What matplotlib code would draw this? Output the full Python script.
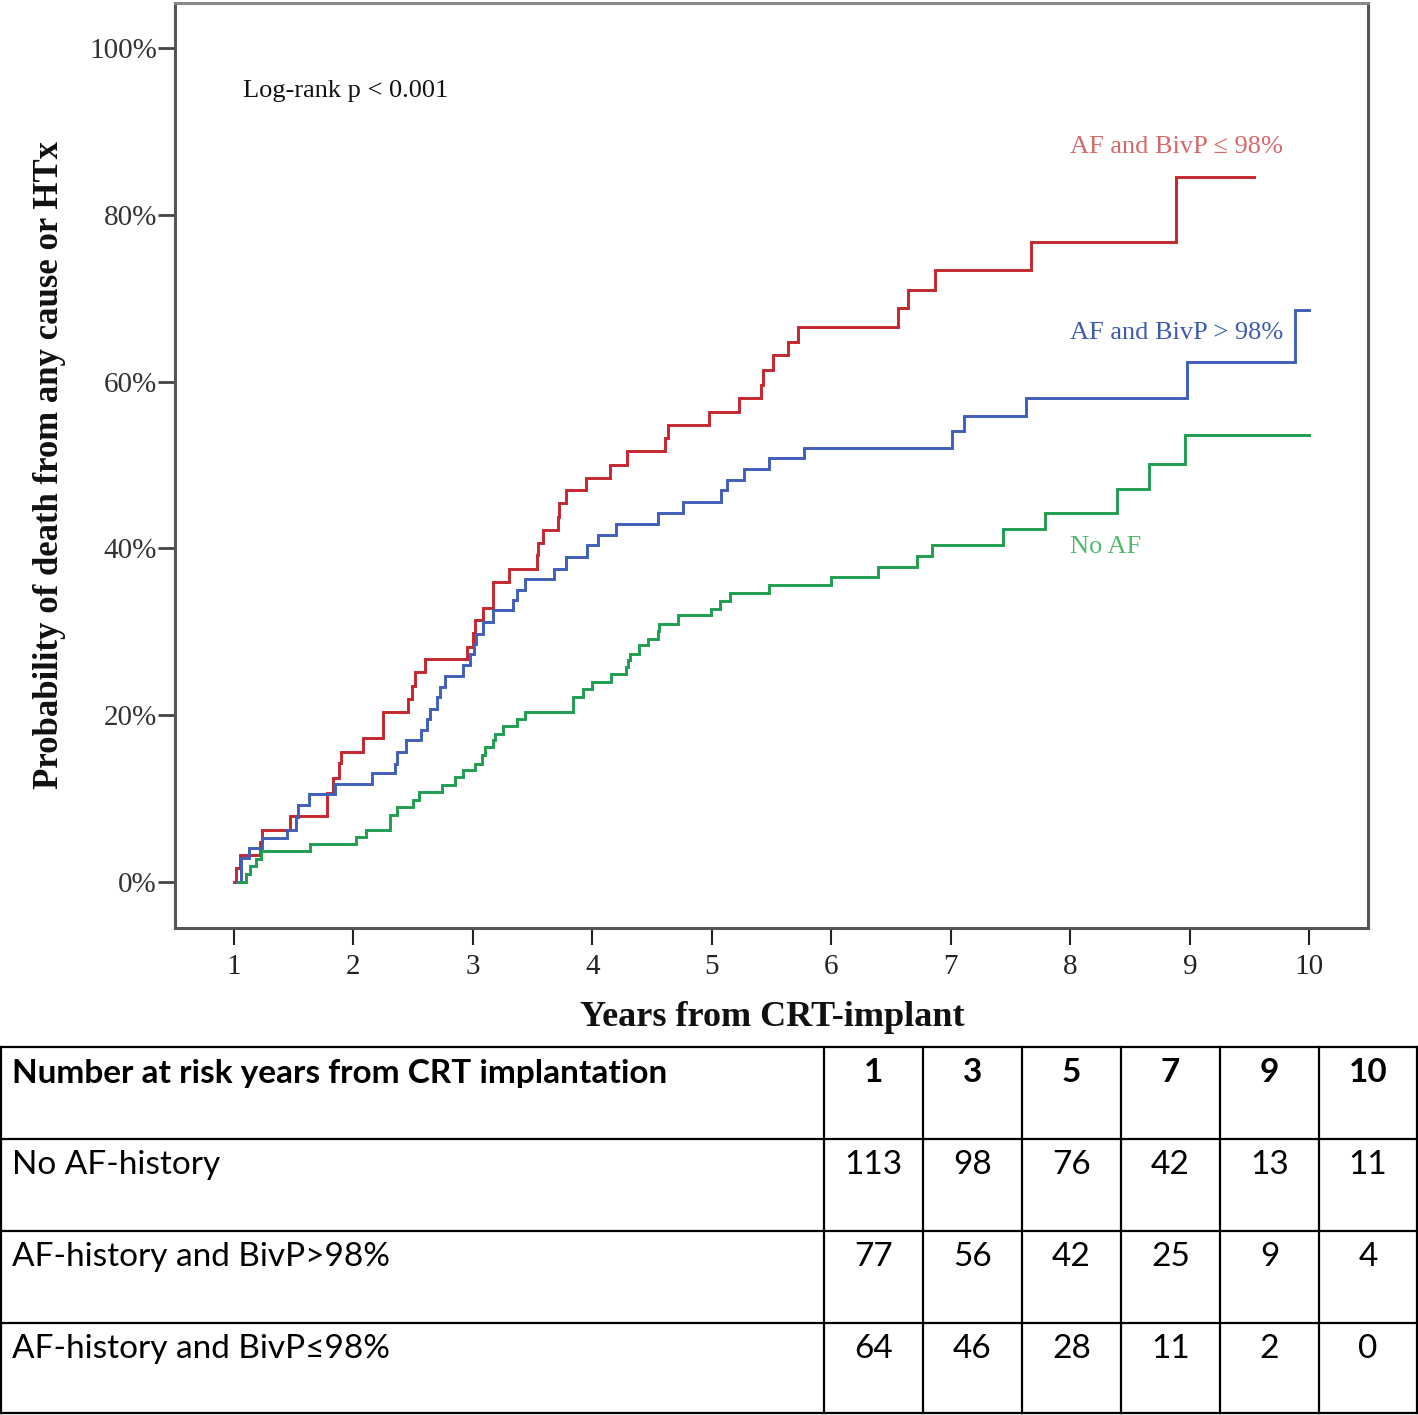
import matplotlib
matplotlib.use("Agg")
import matplotlib.pyplot as plt
from matplotlib.lines import Line2D

# ---------------- data ----------------
red_t = [1.00, 1.02, 1.05, 1.22, 1.24, 1.47, 1.78, 1.83, 1.88, 1.90, 2.08, 2.25, 2.46, 2.49,
         2.52, 2.60, 2.95, 3.00, 3.02, 3.09, 3.17, 3.30, 3.54, 3.55, 3.59, 3.71, 3.72, 3.78,
         3.95, 4.15, 4.29, 4.61, 4.63, 4.98, 5.23, 5.41, 5.43, 5.51, 5.64, 5.72, 6.56, 6.64,
         6.87, 7.67, 8.88, 9.54]
red_v = [0.0, 1.7, 3.2, 4.8, 6.3, 7.9, 10.7, 12.5, 14.3, 15.6, 17.3, 20.4, 22.0, 23.5,
         25.2, 26.7, 28.2, 29.9, 31.4, 32.9, 36.0, 37.6, 39.2, 40.6, 42.2, 43.8, 45.4, 47.0,
         48.4, 50.0, 51.7, 53.2, 54.8, 56.4, 58.0, 59.6, 61.4, 63.2, 64.7, 66.5, 68.8, 71.0,
         73.4, 76.8, 84.5, 84.5]

blue_t = [1.02, 1.06, 1.13, 1.24, 1.45, 1.52, 1.54, 1.63, 1.85, 2.16, 2.35, 2.37, 2.44, 2.57,
          2.62, 2.64, 2.70, 2.73, 2.77, 2.92, 2.98, 3.01, 3.03, 3.09, 3.17, 3.34, 3.37, 3.44,
          3.68, 3.78, 3.96, 4.05, 4.20, 4.55, 4.76, 5.08, 5.13, 5.27, 5.48, 5.77, 7.01, 7.11,
          7.63, 8.98, 9.88, 10.00]
blue_v = [0.0, 2.9, 4.1, 5.3, 6.3, 7.8, 9.2, 10.6, 11.8, 13.1, 14.2, 15.6, 17.0, 18.2,
          19.6, 20.8, 22.2, 23.4, 24.7, 26.0, 27.4, 28.6, 29.8, 31.2, 32.6, 33.8, 35.0, 36.4,
          37.6, 39.0, 40.4, 41.6, 42.9, 44.3, 45.6, 47.0, 48.2, 49.5, 50.8, 52.0, 54.1, 55.9,
          58.1, 62.3, 68.6, 68.6]

green_t = [1.04, 1.10, 1.14, 1.19, 1.23, 1.64, 2.02, 2.11, 2.31, 2.37, 2.50, 2.55, 2.74, 2.85,
           2.92, 3.02, 3.08, 3.10, 3.17, 3.19, 3.25, 3.37, 3.44, 3.84, 3.92, 4.00, 4.16, 4.28,
           4.30, 4.32, 4.39, 4.47, 4.55, 4.56, 4.72, 4.99, 5.07, 5.15, 5.48, 6.00, 6.39, 6.72,
           6.84, 7.44, 7.79, 8.39, 8.66, 8.96, 10.00]
green_v = [0.0, 1.0, 1.9, 2.8, 3.7, 4.6, 5.4, 6.3, 8.0, 9.0, 9.8, 10.8, 11.7, 12.6,
           13.4, 14.2, 15.2, 16.2, 17.0, 17.8, 18.7, 19.6, 20.4, 22.2, 23.1, 24.0, 24.9, 25.8,
           26.6, 27.4, 28.4, 29.2, 30.1, 31.0, 32.0, 32.8, 33.7, 34.7, 35.6, 36.6, 37.8, 39.1,
           40.4, 42.3, 44.3, 47.1, 50.1, 53.6, 53.6]

x_ticks = [1, 2, 3, 4, 5, 6, 7, 8, 9, 10]
y_ticks = [0, 20, 40, 60, 80, 100]
y_ticklabels = ["0%", "20%", "40%", "60%", "80%", "100%"]

table_header = "Number at risk years from CRT implantation"
table_years = ["1", "3", "5", "7", "9", "10"]
table_groups = ["No AF-history", "AF-history and BivP>98%", "AF-history and BivP\u226498%"]
table_values = [
    [113, 98, 76, 42, 13, 11],
    [77, 56, 42, 25, 9, 4],
    [64, 46, 28, 11, 2, 0],
]

RED = "#c4262e"
BLUE = "#3f5fb8"
GREEN = "#1f9e50"

W, H = 1418, 1415
fig = plt.figure(figsize=(W / 100, H / 100), dpi=100)
fig.patch.set_facecolor("white")

SERIF = ["Liberation Serif", "DejaVu Serif"]

# ---------------- plot ----------------
ax = fig.add_axes([175 / W, 1 - 928 / H, (1368 - 175) / W, (928 - 3) / H])
ax.step(red_t, red_v, where="post", color=RED, lw=2.1, solid_joinstyle="miter")
ax.step(blue_t, blue_v, where="post", color=BLUE, lw=2.1, solid_joinstyle="miter")
ax.step(green_t, green_v, where="post", color=GREEN, lw=2.1, solid_joinstyle="miter")

ax.set_xlim(0.51, 10.49)
ax.set_ylim(-5.5, 105.4)
ax.set_xticks(x_ticks)
ax.set_xticklabels([str(t) for t in x_ticks], family=SERIF, fontsize=21, color="#222222")
ax.set_yticks(y_ticks)
ax.set_yticklabels(y_ticklabels, family=SERIF, fontsize=21, color="#333333")
ax.tick_params(axis="y", direction="out", length=12, width=2.0, pad=1, color="#444444")
ax.tick_params(axis="x", direction="out", length=12, width=1.5, pad=7, color="#222222")
for s in ["left", "right", "bottom"]:
    ax.spines[s].set_color("#555555")
    ax.spines[s].set_linewidth(2.2)
ax.spines["top"].set_color("#888888")
ax.spines["top"].set_linewidth(2.2)

fig.text(243 / W, 1 - 91 / H, "Log-rank p < 0.001", family=SERIF, fontsize=19,
         color="#111111", ha="left", va="center")
fig.text(1283 / W, 1 - 147 / H, "AF and BivP \u2264 98%", family=SERIF, fontsize=19,
         color="#d66868", ha="right", va="center")
fig.text(1283 / W, 1 - 333 / H, "AF and BivP > 98%", family=SERIF, fontsize=19,
         color="#3d5cb0", ha="right", va="center")
fig.text(1070 / W, 1 - 547 / H, "No AF", family=SERIF, fontsize=19,
         color="#4dbb6c", ha="left", va="center")

fig.text(50 / W, 1 - 465 / H, "Probability of death from any cause or HTx", family=SERIF,
         fontsize=25, fontweight="bold", rotation=90, ha="center", va="center", color="#111111")
fig.text(772 / W, 1 - 1017 / H, "Years from CRT-implant", family=SERIF,
         fontsize=26, fontweight="bold", ha="center", va="center", color="#111111")

# ---------------- table ----------------
tax = fig.add_axes([0, 0, 1, 1])
tax.set_xlim(0, W)
tax.set_ylim(H, 0)
tax.axis("off")

col_edges = [1, 824, 923, 1022, 1121, 1220, 1319, 1417]
row_edges = [1047, 1139, 1231, 1323, 1413]
for y in row_edges:
    tax.add_line(Line2D([col_edges[0], col_edges[-1]], [y, y], color="black", lw=1.6))
for x in col_edges:
    tax.add_line(Line2D([x, x], [row_edges[0], row_edges[-1]], color="black", lw=1.6))

TFONT = ["Lato", "DejaVu Sans"]
tfs = 24
tax.text(12, 1073, table_header, family=TFONT, fontsize=tfs, fontweight="bold",
         ha="left", va="center", color="black")
for j, yr in enumerate(table_years):
    cx = (col_edges[j + 1] + col_edges[j + 2]) / 2
    tax.text(cx, 1073, yr, family=TFONT, fontsize=tfs, fontweight="bold",
             ha="center", va="center", color="black")
for i, g in enumerate(table_groups):
    cy = row_edges[i + 1] + 26
    tax.text(12, cy, g, family=TFONT, fontsize=tfs, ha="left", va="center", color="black")
    for j, v in enumerate(table_values[i]):
        cx = (col_edges[j + 1] + col_edges[j + 2]) / 2
        tax.text(cx, cy, str(v), family=TFONT, fontsize=tfs, ha="center", va="center",
                 color="black")

fig.savefig("out.png", dpi=100, facecolor="white")
